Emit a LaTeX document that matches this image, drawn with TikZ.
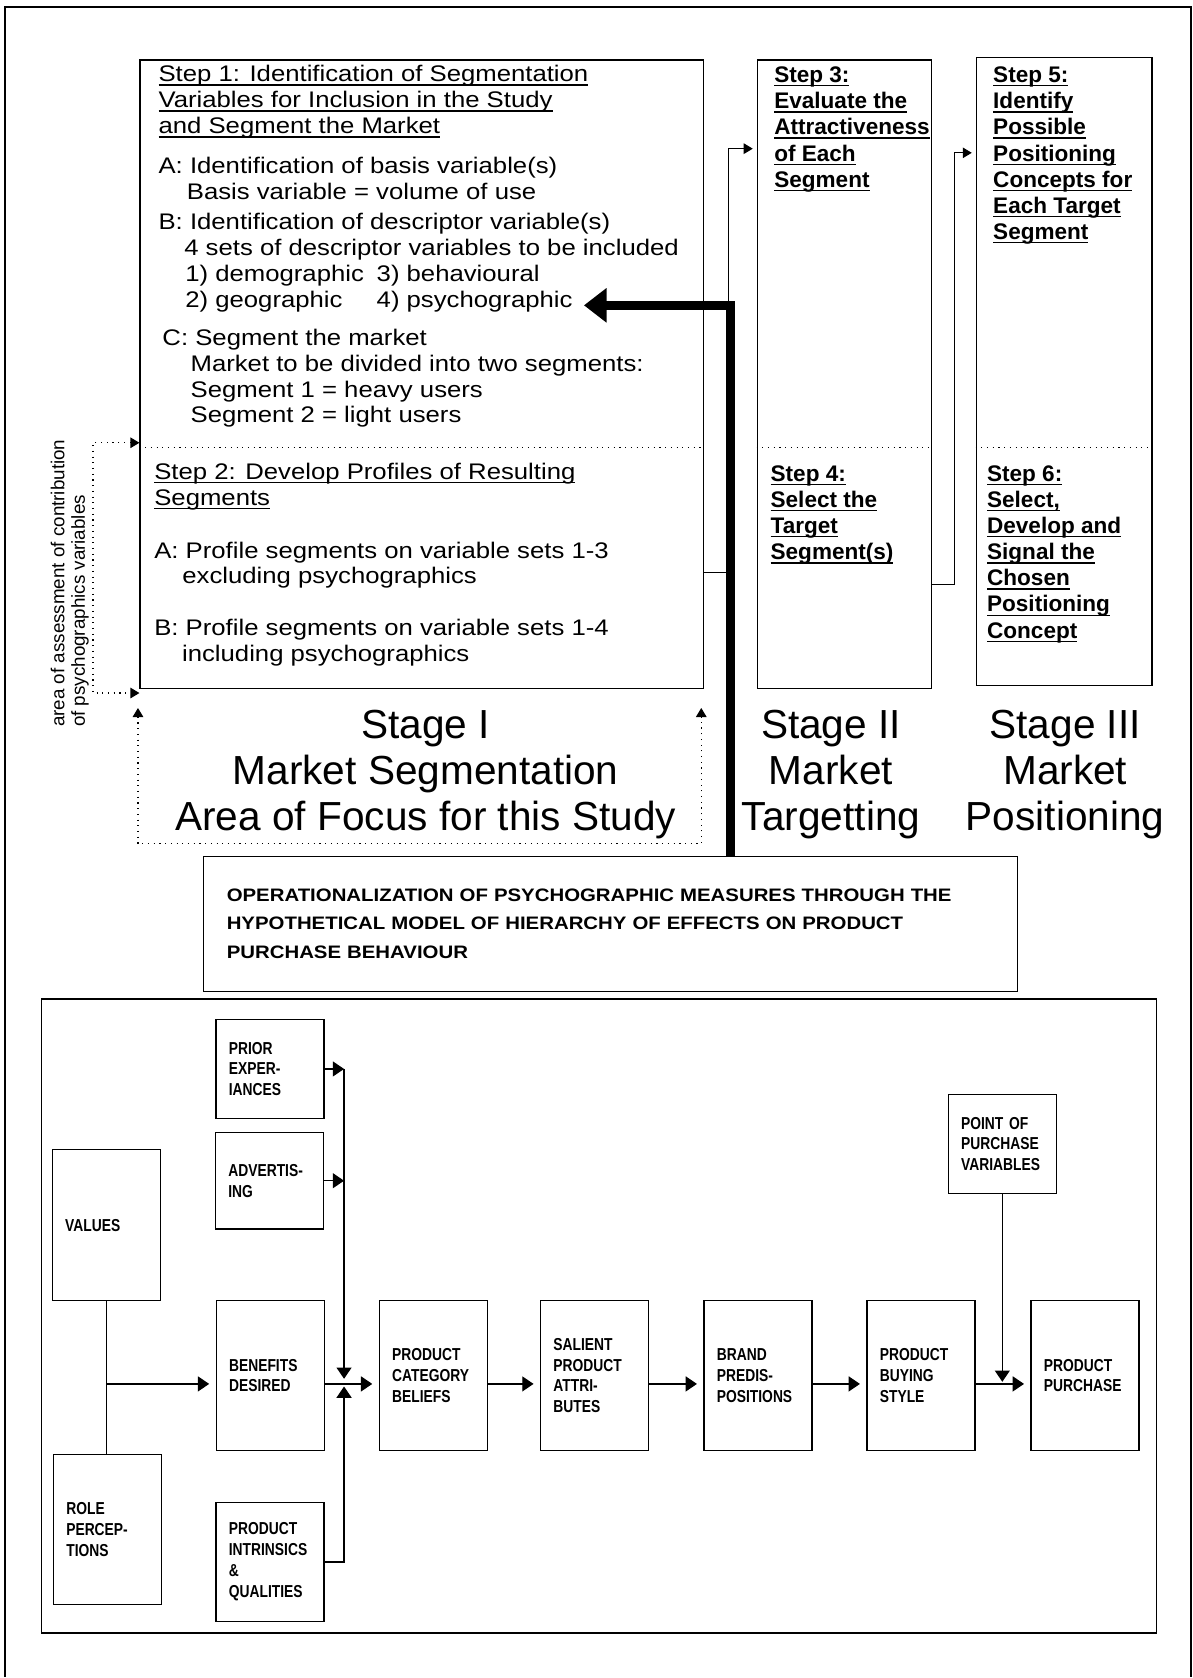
\documentclass[tikz,border=0pt]{standalone}
\usepackage{fontspec}
\setmainfont{Liberation Sans}
\newfontfamily\widesans[FakeStretch=1.14]{Liberation Sans}
\newfontfamily\opssans[FakeStretch=1.13]{Liberation Sans}
\newfontfamily\narrowsans[FakeStretch=0.8]{Liberation Sans}
\usetikzlibrary{arrows.meta, positioning, calc, fit}
\newcommand{\undl}[1]{\setbox0=\hbox{#1}\leavevmode\rlap{\rule[-2.6pt]{\wd0}{0.9pt}}\box0}

\begin{document}
\begin{tikzpicture}[
    x=0.25mm, y=-0.25mm,
    panel/.style={draw, line width=0.9pt, inner sep=0pt},
    steptext/.style={inner sep=0pt, anchor=north west, align=left, font=\widesans\fontsize{15}{17.2}\selectfont},
    boldtext/.style={inner sep=0pt, anchor=north west, align=left, font=\bfseries\fontsize{15}{17.4}\selectfont},
    stagetext/.style={inner sep=0pt, anchor=north, align=center, font=\fontsize{27}{30.6}\selectfont},
    lbox/.style={draw, line width=0.9pt, minimum width=25.25mm, text width=19.25mm, inner xsep=3mm, inner ysep=0pt, align=left, font=\narrowsans\bfseries\fontsize{11.5}{13.9}\selectfont, minimum height=#1},
    arr/.style={-{Triangle[length=7.5pt, width=10pt]}, line width=0.8pt, shorten >=1.5mm},
    sarr/.style={-{Triangle[length=6pt, width=7pt]}, line width=0.7pt, shorten >=2.5pt},
    dotarr/.style={{Triangle[length=6pt, width=7pt]}-{Triangle[length=6pt, width=7pt]}, line width=0.8pt, dash pattern=on 0.8pt off 3pt},
    sepline/.style={line width=0.8pt, dash pattern=on 0.8pt off 3pt},
    bigarr/.style={-{Triangle[length=15pt, width=22pt]}, line width=6.2pt}
]
\path[fill=white] (0,0) rectangle (1115,1568);

% page frame
\draw[line width=1.4pt] (4.7,1568) -- (4.7,6.3) -- (1113.7,6.3) -- (1113.7,1568);

% Stage panels
\node[panel, fit={(131,56) (658,644)}] (segbox) {};
\node[panel, fit={(708,56) (871,644)}] (tgtbox) {};
\node[panel, fit={(912.8,54) (1077,641)}] (posbox) {};

\coordinate (sepy) at (0,418.7);
\draw[sepline] (segbox.west |- sepy) -- (segbox.east |- sepy);
\draw[sepline] (tgtbox.west |- sepy) -- (tgtbox.east |- sepy);
\draw[sepline] (posbox.west |- sepy) -- (posbox.east |- sepy);

\node[steptext] (step1txt) at (148,59.4) {\strut\undl{Step 1: Identification of Segmentation}\\
\undl{Variables for Inclusion in the Study}\\
\undl{and Segment the Market}\\[9.4pt]
A: Identification of basis variable(s)\\
\hspace*{18.8pt}Basis variable = volume of use\\[2.7pt]
B: Identification of descriptor variable(s)\\
\hspace*{17.1pt}4 sets of descriptor variables to be included\\
\hspace*{17.8pt}\makebox[127.3pt][l]{1) demographic}3) behavioural\\
\hspace*{17.8pt}\makebox[127.3pt][l]{2) geographic}4) psychographic\\[8.3pt]
\hspace*{2.6pt}C: Segment the market\\
\hspace*{21.3pt}Market to be divided into two segments:\\
\hspace*{21.3pt}Segment 1 = heavy users\\
\hspace*{21.3pt}Segment 2 = light users};

\node[steptext] (step2txt) at (144,430.8) {\strut\undl{Step 2: Develop Profiles of Resulting}\\
\undl{Segments}\\[18.1pt]
A: Profile segments on variable sets 1-3\\
\hspace*{18.7pt}excluding psychographics\\[17.1pt]
B: Profile segments on variable sets 1-4\\
\hspace*{18.5pt}including psychographics};

\node[boldtext] (step3txt) at (723.7,59.8) {\strut\undl{Step 3:}\\\undl{Evaluate the}\\\undl{Attractiveness}\\\undl{of Each}\\\undl{Segment}};
\node[boldtext] (step4txt) at (720.3,432.5) {\strut\undl{Step 4:}\\\undl{Select the}\\\undl{Target}\\\undl{Segment(s)}};
\node[boldtext] (step5txt) at (928.4,59.8) {\strut\undl{Step 5:}\\\undl{Identify}\\\undl{Possible}\\\undl{Positioning}\\\undl{Concepts for}\\\undl{Each Target}\\\undl{Segment}};
\node[boldtext] (step6txt) at (922.7,432.5) {\strut\undl{Step 6:}\\\undl{Select,}\\\undl{Develop and}\\\undl{Signal the}\\\undl{Chosen}\\\undl{Positioning}\\\undl{Concept}};

% Stage titles
\node[stagetext] (stageone) at (398,659.9) {\strut Stage I\\Market Segmentation\\Area of Focus for this Study};
\node[stagetext] (stagetwo) at (777,659.9) {\strut Stage II\\Market\\Targetting};
\node[stagetext] (stagethree) at (996,659.9) {\strut Stage III\\Market\\Positioning};

\node[rotate=90, anchor=north west, inner sep=0pt, align=left, font=\fontsize{12.5}{13.5}\selectfont] (sidenote) at (46.7,680) {\strut area of assessment of contribution\\of psychographics variables};

% dotted brackets
\coordinate (brtop) at (87,414);
\coordinate (brbot) at (87,648);
\draw[dotarr] (segbox.west |- brtop) -- (brtop) -- (brbot) -- (segbox.west |- brbot);
\coordinate (focusnw) at (129,662);
\coordinate (focusne) at (655.7,662);
\coordinate (focusbot) at (0,789);
\draw[dotarr] (focusnw) -- (focusnw |- focusbot) -- (focusne |- focusbot) -- (focusne);

% step links
\coordinate (bend3) at (681.6,535.2);
\coordinate (in3) at (681.6,139);
\draw[sarr] (segbox.east |- bend3) -- (bend3) -- (in3) -- (tgtbox.west |- in3);
\coordinate (bend5) at (892.5,546.2);
\coordinate (in5) at (892.5,142.9);
\draw[sarr] (tgtbox.east |- bend5) -- (bend5) -- (in5) -- (posbox.west |- in5);

% operationalization
\node[draw, line width=0.9pt, minimum width=190.4mm, minimum height=31.55mm, text width=179.4mm, inner xsep=5.5mm, align=left, font=\opssans\bfseries\fontsize{12}{18.85}\selectfont] (ops) at (570.85,863.7) {OPERATIONALIZATION OF PSYCHOGRAPHIC MEASURES THROUGH THE\\HYPOTHETICAL MODEL OF HIERARCHY OF EFFECTS ON PRODUCT\\PURCHASE BEHAVIOUR};

\coordinate (barturn) at (683,285.5);
\coordinate (psytip) at (546,285.5);
\draw[bigarr] (ops.north -| barturn) -- (barturn) -- (psytip);

% Hierarchy of effects model
\node[panel, fit={(39,934) (1081.6,1527)}] (modelbox) {};

\node[lbox=23.25mm] (prior) at (252.5,999.5) {PRIOR\\EXPER-\\IANCES};
\node[lbox=22.5mm] (advert) at (252,1104) {ADVERTIS-\\ING};
\node[lbox=35.25mm] (values) at (99.5,1145.5) {VALUES};
\node[lbox=35mm] (role) at (100.5,1430) {ROLE\\PERCEP-\\TIONS};
\node[lbox=35.1mm] (benefits) at (252.7,1286.2) {BENEFITS\\DESIRED};
\node[lbox=27.75mm] (intrinsics) at (252.5,1460.5) {PRODUCT\\INTRINSICS\\\&\\QUALITIES};
\node[lbox=35.1mm] (category) at (405.2,1286.2) {PRODUCT\\CATEGORY\\BELIEFS};
\node[lbox=35.1mm] (salient) at (556,1286.2) {SALIENT\\PRODUCT\\ATTRI-\\BUTES};
\node[lbox=35.1mm] (brand) at (708.8,1286.2) {BRAND\\PREDIS-\\POSITIONS};
\node[lbox=35.1mm] (buying) at (861.2,1286.2) {PRODUCT\\BUYING\\STYLE};
\node[lbox=35.1mm] (purchase) at (1014.6,1286.2) {PRODUCT\\PURCHASE};
\node[lbox=23.1mm] (pop) at (937.2,1069.7) {POINT OF\\PURCHASE\\VARIABLES};

\coordinate (merge) at (321.7,1294);
\draw[line width=0.8pt] (values.south) -- (values.south |- role.north);
\draw[arr] (values.south |- merge) -- (benefits.west |- merge);
\draw[arr] (benefits.east |- merge) -- (category.west |- merge);
\draw[arr] (category.east |- merge) -- (salient.west |- merge);
\draw[arr] (salient.east |- merge) -- (brand.west |- merge);
\draw[arr] (brand.east |- merge) -- (buying.west |- merge);
\draw[arr] (buying.east |- merge) -- (purchase.west |- merge);

\draw[arr, shorten >=0pt] (prior.east) -- (prior.east -| merge);
\draw[arr, shorten >=0pt] (advert.east) -- (advert.east -| merge);
\draw[arr, shorten >=1.2mm] (prior.east -| merge) -- (merge);
\draw[arr, shorten >=0.6mm] (intrinsics.east) -| (merge);
\draw[arr, shorten >=0.5mm] (pop.south) -- (pop.south |- merge);

\end{tikzpicture}
\end{document}
